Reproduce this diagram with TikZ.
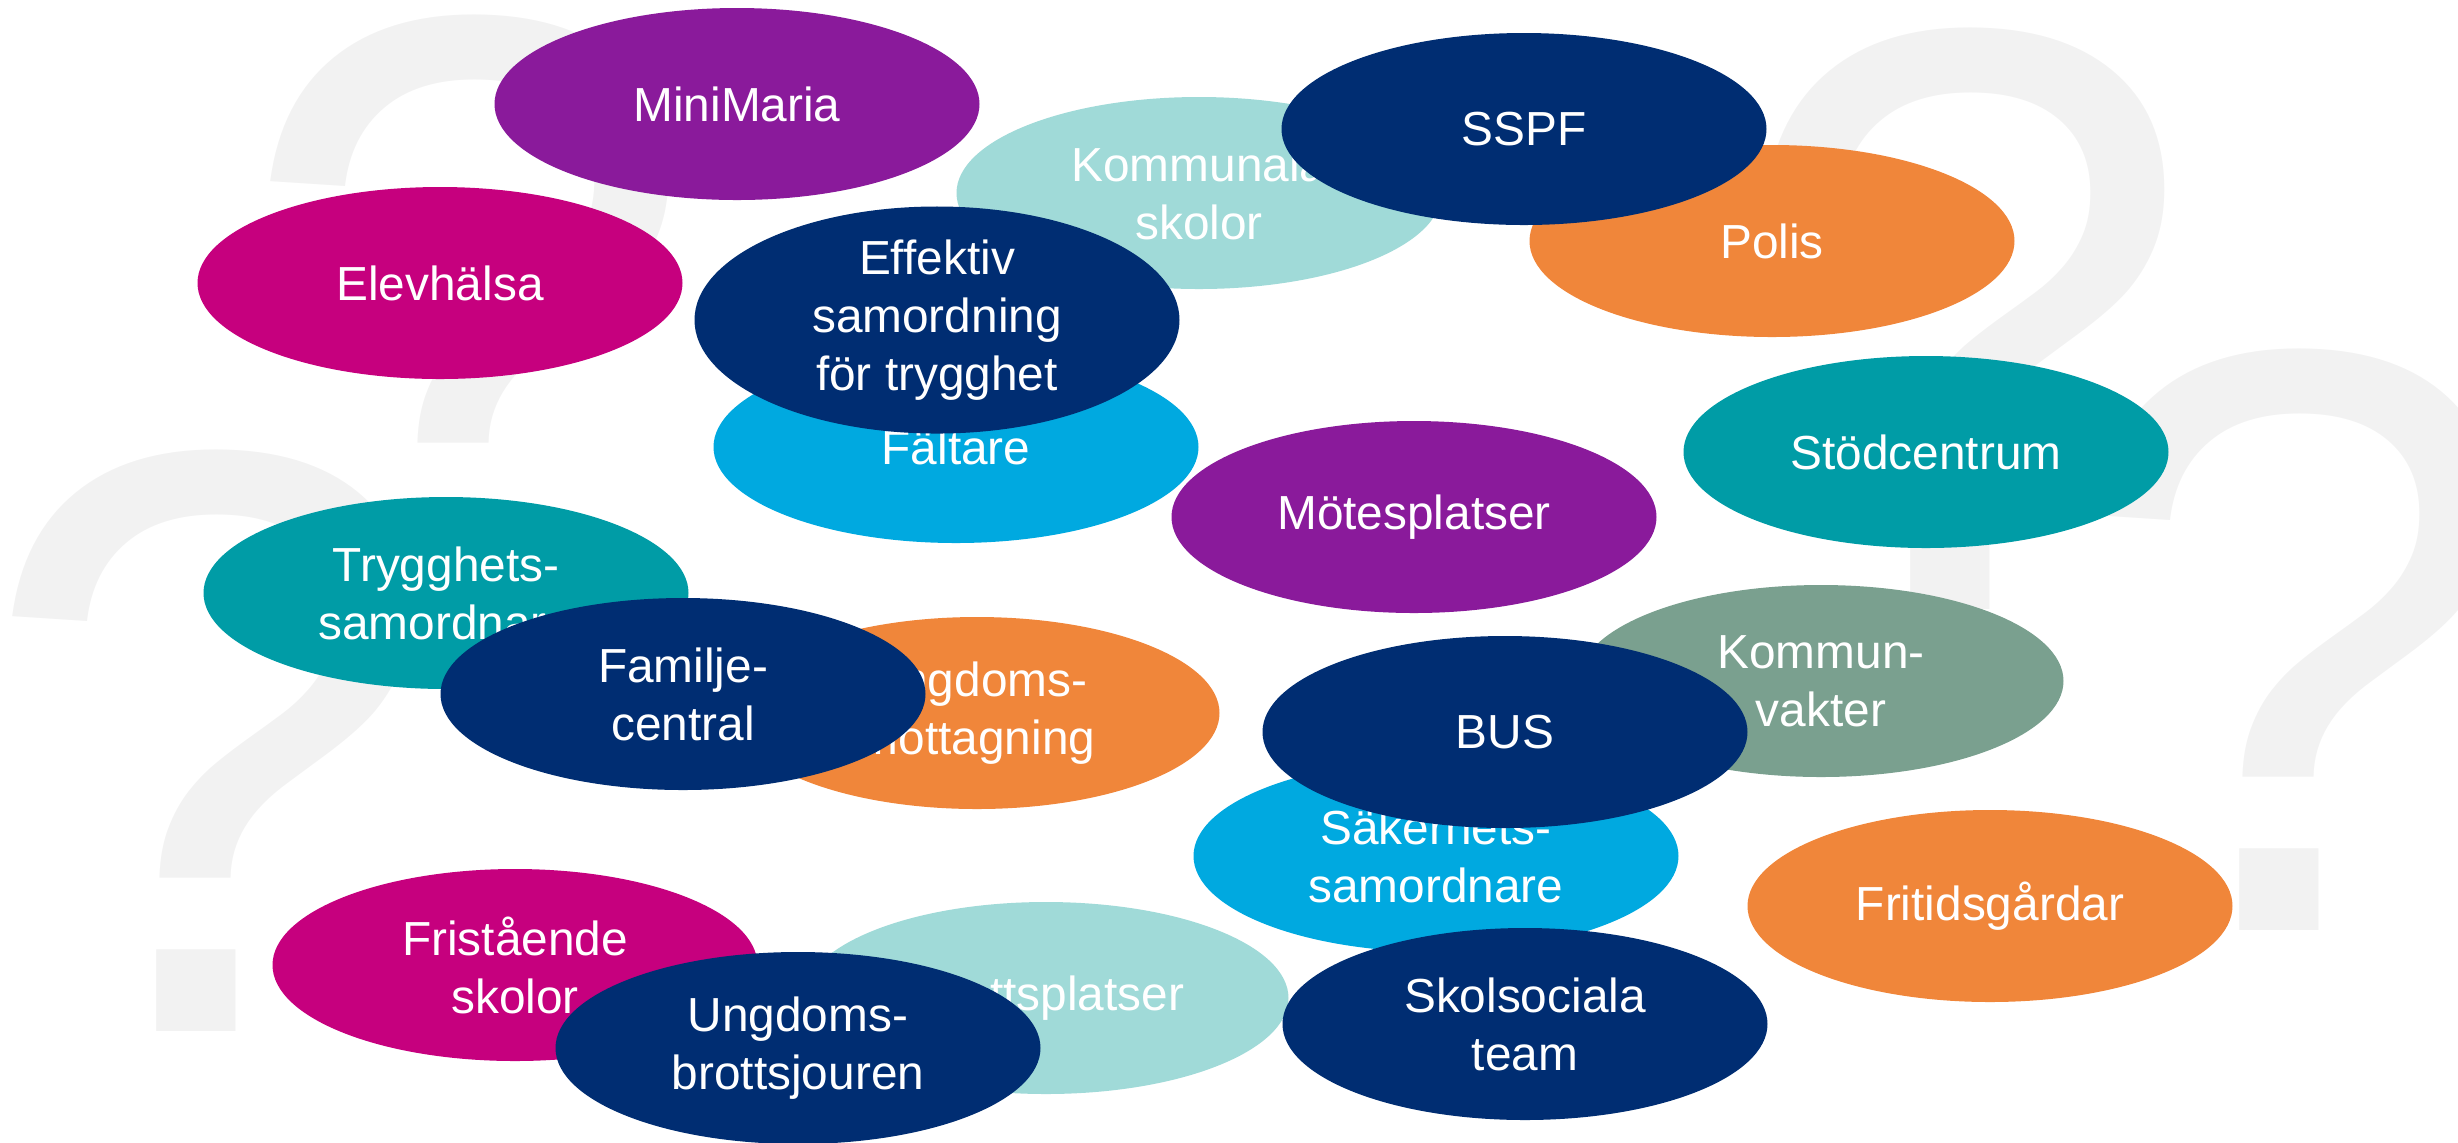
\documentclass[tikz,border=0pt]{standalone}
\usepackage{fontspec}
\setmainfont{Liberation Sans}
\usetikzlibrary{shapes.geometric}
\begin{document}
\begin{tikzpicture}
\definecolor{navy}{HTML}{002D72}
\definecolor{lila}{HTML}{8A1A9B}
\definecolor{cerise}{HTML}{C6007E}
\definecolor{orange}{HTML}{F0863A}
\definecolor{ljusbla}{HTML}{00A9E0}
\definecolor{teal}{HTML}{009CA6}
\definecolor{ljusteal}{HTML}{A0DAD8}
\definecolor{gragron}{HTML}{7AA08F}
\definecolor{qgrey}{HTML}{F2F2F2}
\tikzset{
  blob/.style={ellipse, minimum width=4.85cm, minimum height=1.92cm, inner sep=0pt,
    text=white, align=center, font=\fontsize{13.6}{16.5}\selectfont},
  qmark/.style={inner sep=0pt, text=qgrey, font=\fontsize{237}{237}\selectfont, anchor=base}
}
\useasboundingbox (0,0) rectangle (24.58,-11.42);
% question marks in the background
\node[qmark] (q1) at (4.685,-5.96) {?};
\node[qmark] (q2) at (2.105,-10.31) {?};
\node[qmark] (q3) at (19.645,-6.09) {?};
\node[qmark] (q4) at (22.935,-9.30) {?};
% actors
\node[blob, fill=ljusteal] (kommunala) at (11.99,-1.93) {Kommunala\\skolor};
\node[blob, fill=lila] (minimaria) at (7.37,-1.04) {MiniMaria};
\node[blob, fill=orange] (polis) at (17.72,-2.41) {Polis};
\node[blob, fill=navy] (sspf) at (15.24,-1.29) {SSPF};
\node[blob, fill=cerise] (elevhalsa) at (4.40,-2.83) {Elevhälsa};
\node[blob, fill=ljusbla] (faltare) at (9.56,-4.47) {Fältare};
\node[blob, fill=navy] (effektiv) at (9.37,-3.20) {Effektiv\\samordning\\för trygghet};
\node[blob, fill=lila] (motesplatser) at (14.14,-5.17) {Mötesplatser};
\node[blob, fill=teal] (stodcentrum) at (19.26,-4.52) {Stödcentrum};
\node[blob, fill=teal] (trygghet) at (4.46,-5.93) {Trygghets-\\samordnare};
\node[blob, fill=orange] (ungdmott) at (9.77,-7.13) {Ungdoms-\\mottagning};
\node[blob, fill=navy] (familje) at (6.83,-6.94) {Familje-\\central};
\node[blob, fill=gragron] (kommunvakt) at (18.21,-6.81) {Kommun-\\vakter};
\node[blob, fill=ljusbla] (sakerhet) at (14.36,-8.56) {Säkerhets-\\samordnare};
\node[blob, fill=navy] (bus) at (15.05,-7.32) {BUS};
\node[blob, fill=orange] (fritid) at (19.90,-9.06) {Fritidsgårdar};
\node[blob, fill=cerise] (fristaende) at (5.15,-9.65) {Fristående\\skolor};
\node[blob, fill=ljusteal] (idrott) at (10.46,-9.98) {Idrottsplatser};
\node[blob, fill=navy] (brottsjour) at (7.98,-10.48) {Ungdoms-\\brottsjouren};
\node[blob, fill=navy] (skolsocial) at (15.25,-10.24) {Skolsociala\\team};
\end{tikzpicture}
\end{document}
